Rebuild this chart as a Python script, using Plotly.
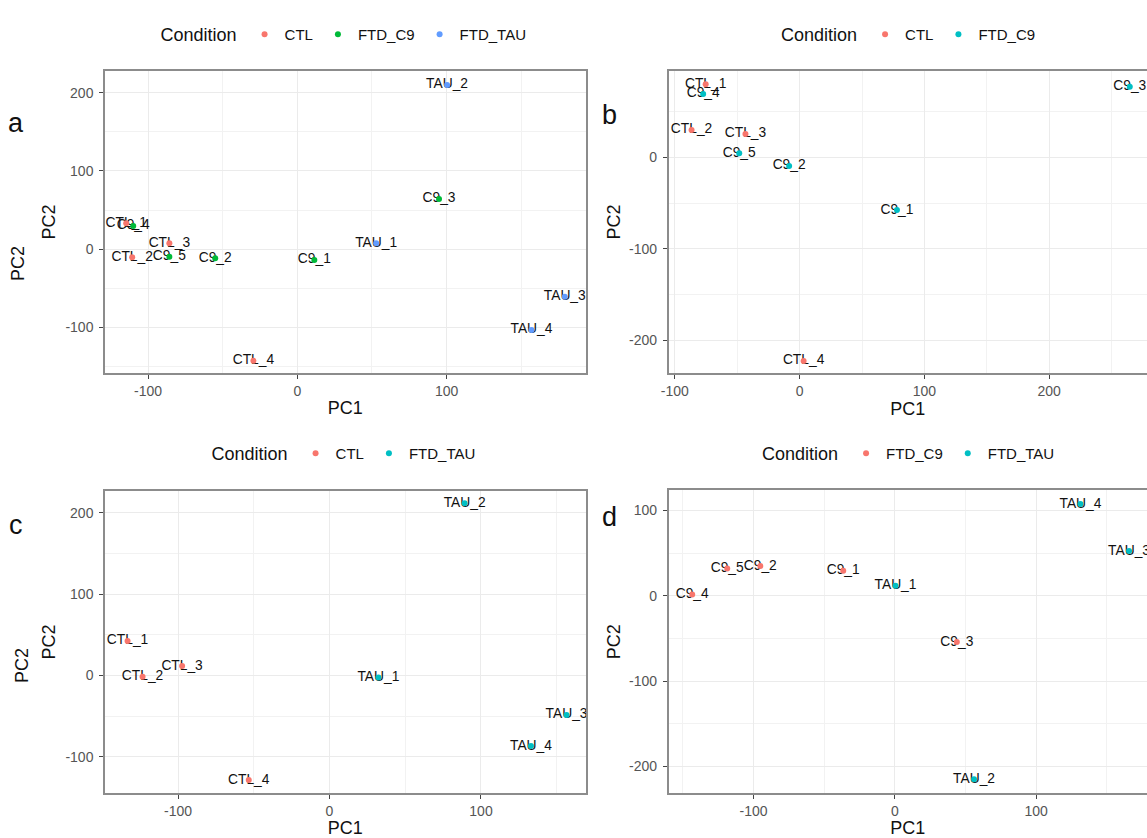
import plotly.graph_objects as go

W, H = 1147, 838
FONT = "Liberation Sans, Arial, Helvetica, sans-serif"
RED, GREEN, BLUE, CYAN = "#F8766D", "#00BA38", "#619CFF", "#00BFC4"

# ---------------- data ----------------
# panel a : CTL vs FTD_C9 vs FTD_TAU
a_ctl_lab = ["CTL_1", "CTL_2", "CTL_3", "CTL_4"]
a_ctl_x = [-114.6, -110.6, -85.7, -29.4]
a_ctl_y = [33.2, -10.2, 7.6, -142.3]
a_c9_lab = ["C9_1", "C9_2", "C9_3", "C9_4", "C9_5"]
a_c9_x = [11.4, -55.0, 94.9, -109.9, -85.7]
a_c9_y = [-13.7, -11.5, 64.2, 29.8, -9.4]
a_tau_lab = ["TAU_1", "TAU_2", "TAU_3", "TAU_4"]
a_tau_x = [52.8, 100.3, 179.1, 156.8]
a_tau_y = [7.6, 209.8, -60.5, -103.0]

# panel b : CTL vs FTD_C9
b_ctl_lab = ["CTL_1", "CTL_2", "CTL_3", "CTL_4"]
b_ctl_x = [-75.3, -86.6, -43.4, 3.2]
b_ctl_y = [80.0, 29.9, 25.5, -222.8]
b_c9_lab = ["C9_1", "C9_2", "C9_3", "C9_4", "C9_5"]
b_c9_x = [78.0, -8.4, 264.6, -77.3, -48.4]
b_c9_y = [-57.7, -9.5, 77.3, 69.3, 4.4]

# panel c : CTL vs FTD_TAU
c_ctl_lab = ["CTL_1", "CTL_2", "CTL_3", "CTL_4"]
c_ctl_x = [-133.3, -123.4, -97.3, -53.3]
c_ctl_y = [42.2, -1.7, 11.4, -128.8]
c_tau_lab = ["TAU_1", "TAU_2", "TAU_3", "TAU_4"]
c_tau_x = [32.3, 89.2, 156.5, 133.0]
c_tau_y = [-2.5, 211.6, -48.8, -87.0]

# panel d : FTD_C9 vs FTD_TAU
d_c9_lab = ["C9_1", "C9_2", "C9_3", "C9_4", "C9_5"]
d_c9_x = [-36.5, -95.2, 43.9, -143.4, -118.6]
d_c9_y = [29.3, 34.8, -54.3, 1.6, 32.1]
d_tau_lab = ["TAU_1", "TAU_2", "TAU_3", "TAU_4"]
d_tau_x = [0.5, 56.1, 165.8, 131.4]
d_tau_y = [11.7, -215.2, 52.4, 107.5]

# tick values / labels (hyphen minus as in the reference)
tick_vals = [-200, -100, 0, 100, 200]
tick_text = ["-200", "-100", "0", "100", "200"]

panels = [
    ("", "legend", [("CTL", RED, a_ctl_lab, a_ctl_x, a_ctl_y),
                    ("FTD_C9", GREEN, a_c9_lab, a_c9_x, a_c9_y),
                    ("FTD_TAU", BLUE, a_tau_lab, a_tau_x, a_tau_y)]),
    ("2", "legend2", [("CTL", RED, b_ctl_lab, b_ctl_x, b_ctl_y),
                      ("FTD_C9", CYAN, b_c9_lab, b_c9_x, b_c9_y)]),
    ("3", "legend3", [("CTL", RED, c_ctl_lab, c_ctl_x, c_ctl_y),
                      ("FTD_TAU", CYAN, c_tau_lab, c_tau_x, c_tau_y)]),
    ("4", "legend4", [("FTD_C9", RED, d_c9_lab, d_c9_x, d_c9_y),
                      ("FTD_TAU", CYAN, d_tau_lab, d_tau_x, d_tau_y)]),
]

fig = go.Figure()
for suf, leg, groups in panels:
    xa, ya = "x" + suf, "y" + suf
    for name, col, lab, xs, ys in groups:
        fig.add_trace(go.Scatter(
            x=xs, y=ys, text=lab, mode="text", textposition="middle center",
            textfont=dict(family=FONT, size=13.8, color="#111111"),
            xaxis=xa, yaxis=ya, showlegend=False, hoverinfo="skip",
            cliponaxis=False))
    for name, col, lab, xs, ys in groups:
        fig.add_trace(go.Scatter(
            x=xs, y=ys, text=lab, mode="markers", name=name,
            marker=dict(color=col, size=6), xaxis=xa, yaxis=ya,
            legend=leg, cliponaxis=False))

# ---------------- layout ----------------
def fx(px):
    return px / W

def fy(py):
    return 1 - py / H

dom = {
    "":  ((105, 585.5), (71, 373), (-128.8, 193.0), (-158.0, 227.7), True, 5),
    "2": ((668.6, 1147), (71, 373), (-105.0, 278.4), (-236.0, 94.5), False, 4),
    "3": ((105, 585.5), (490.7, 793.3), (-148.2, 169.0), (-145.0, 227.0), True, 5),
    "4": ((668.6, 1147), (490, 793.3), (-160.1, 178.5), (-231.6, 124.0), False, 4),
}

axis_common = dict(
    showgrid=True, gridcolor="#EBEBEB", gridwidth=1.1, zeroline=False,
    showline=True, linecolor="#8C8C8C", linewidth=1.5,
    ticks="outside", ticklen=4, tickcolor="#444444", tickwidth=1,
    tickfont=dict(family=FONT, size=14, color="#555555"),
    tickmode="array", tickvals=tick_vals, ticktext=tick_text,
    minor=dict(showgrid=True, gridcolor="#F2F2F2", gridwidth=0.8,
               tickmode="linear", dtick=50, tick0=0),
    title_font=dict(family=FONT, size=18, color="#111111"),
)

layout = dict(
    width=W, height=H, margin=dict(l=0, r=0, t=0, b=0),
    paper_bgcolor="white", plot_bgcolor="white", template="none",
    font=dict(family=FONT, color="#111111"),
)
for suf, ((x0, x1), (y0, y1), xr, yr, full, ystand) in dom.items():
    xkey, ykey = "xaxis" + suf, "yaxis" + suf
    layout[xkey] = dict(axis_common, domain=[fx(x0), fx(x1)], range=list(xr),
                        anchor="y" + suf, mirror=True,
                        title=dict(text="PC1", standoff=4))
    layout[ykey] = dict(axis_common, domain=[fy(y1), fy(y0)], range=list(yr),
                        anchor="x" + suf, mirror=full, ticklabelstandoff=3,
                        title=dict(text="PC2", standoff=ystand))

legend_pos = {"legend": (345, 35), "legend2": (910, 35),
              "legend3": (345, 454), "legend4": (910, 454)}
for key, (cx, cy) in legend_pos.items():
    layout[key] = dict(
        orientation="h", x=fx(cx), y=fy(cy), xanchor="center", yanchor="middle",
        title=dict(text="Condition", side="left",
                   font=dict(family=FONT, size=18, color="#111111")),
        font=dict(family=FONT, size=15, color="#111111"),
        bgcolor="rgba(0,0,0,0)", itemwidth=30, tracegroupgap=0)

annots = []
for letter, (px, py) in {"a": (16, 123), "b": (609, 115),
                          "c": (16, 525), "d": (609, 517)}.items():
    annots.append(dict(text=letter, x=fx(px), y=fy(py), xref="paper", yref="paper",
                       showarrow=False, xanchor="center", yanchor="middle",
                       font=dict(family=FONT, size=27, color="#111111")))
# stray duplicate axis titles visible in the composite
for px, py in [(18, 264), (22, 666)]:
    annots.append(dict(text="PC2", x=fx(px), y=fy(py), xref="paper", yref="paper",
                       showarrow=False, textangle=-90, xanchor="center", yanchor="middle",
                       font=dict(family=FONT, size=18, color="#111111")))
layout["annotations"] = annots

fig.update_layout(**layout)
fig.write_html("out.html")
